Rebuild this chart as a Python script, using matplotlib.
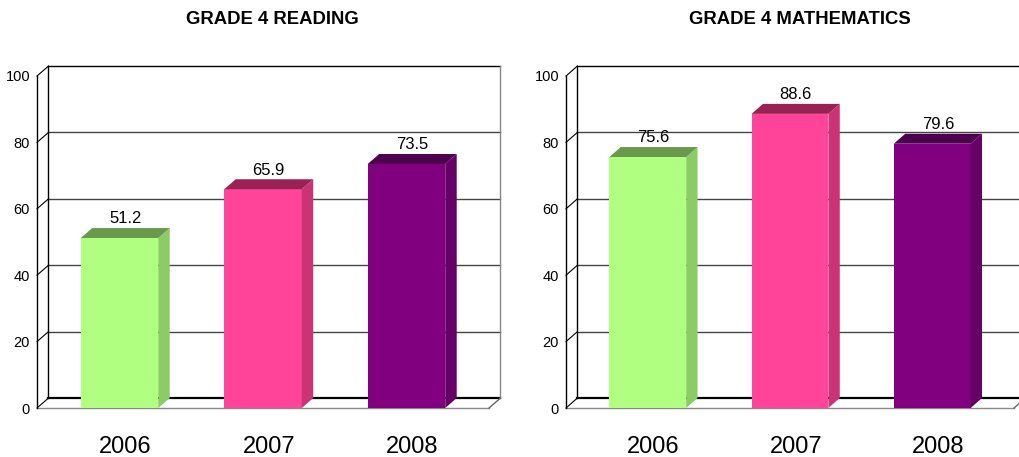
import matplotlib
matplotlib.use("Agg")
import matplotlib.pyplot as plt
from matplotlib.patches import Polygon, Rectangle

years = ['2006', '2007', '2008']
reading = [51.2, 65.9, 73.5]
mathematics = [75.6, 88.6, 79.6]
titles = ['GRADE 4 READING', 'GRADE 4 MATHEMATICS']
yticks = [0, 20, 40, 60, 80, 100]

front_cols = ['#B0FF80', '#FF4499', '#800080']
side_cols = ['#8CCC66', '#CC3377', '#660066']
top_cols = ['#6A994D', '#992255', '#4D004D']

plt.rcParams['font.family'] = ['Liberation Sans', 'DejaVu Sans']

W, H = 1019, 457
fig = plt.figure(figsize=(W / 100, H / 100), dpi=100)

# 3d look: depth offset in data units
DX, DY = 0.08, 3.0
BW = 0.54
XMIN, XMAX = -0.575, 2.575
GRID = '#444444'


def panel(left_px, right_px, values, title, title_x):
    ax = fig.add_axes([left_px / W, (H - 408) / H, (right_px - left_px) / W, 332 / H])
    ax.set_xlim(XMIN, XMAX)
    ax.set_ylim(0, 100)
    ax.patch.set_visible(False)

    # back wall + left wall lines
    for t in yticks:
        lw = 1.6 if t == 0 else 1.0
        c = 'black' if t in (0, 100) else GRID
        ax.plot([XMIN + DX, XMAX + DX], [t + DY, t + DY], color=c, lw=lw, clip_on=False, zorder=1)
        ax.plot([XMIN, XMIN + DX], [t, t + DY], color='black', lw=0.8, clip_on=False, zorder=1)
    ax.plot([XMIN + DX, XMIN + DX], [DY, 100 + DY], color='black', lw=1.0, clip_on=False, zorder=1)
    ax.plot([XMAX + DX, XMAX + DX], [DY, 100 + DY], color='#888888', lw=1.0, clip_on=False, zorder=1)
    # floor
    ax.plot([XMIN, XMAX], [0, 0], color='#888888', lw=1.0, clip_on=False, zorder=1)
    ax.plot([XMAX, XMAX + DX], [0, DY], color='#666666', lw=1.0, clip_on=False, zorder=1)

    for i, v in enumerate(values):
        x0, x1 = i - BW / 2, i + BW / 2
        ax.add_patch(Rectangle((x0, 0), BW, v, facecolor=front_cols[i], edgecolor='none',
                               clip_on=False, zorder=3))
        ax.add_patch(Polygon([(x1, 0), (x1 + DX, DY), (x1 + DX, v + DY), (x1, v)],
                             facecolor=side_cols[i], edgecolor='none', clip_on=False, zorder=3))
        ax.add_patch(Polygon([(x0, v), (x0 + DX, v + DY), (x1 + DX, v + DY), (x1, v)],
                             facecolor=top_cols[i], edgecolor='none', clip_on=False, zorder=3))
        ax.text(i + DX / 2, v + DY + 0.5, f'{v}', ha='center', va='bottom', fontsize=12, zorder=4)
        ax.text(i + DX / 2, -11.7, years[i], ha='center', va='center', fontsize=17)

    for s in ['top', 'right', 'bottom']:
        ax.spines[s].set_visible(False)
    ax.spines['left'].set_color('black')
    ax.spines['left'].set_linewidth(1.0)
    ax.set_xticks([])
    ax.set_yticks(yticks)
    ax.tick_params(axis='y', length=0, pad=5, labelsize=10.5)

    fig.text(title_x / W, 1 - 19 / H, title, ha='center', va='center',
             fontsize=13.3, fontweight='bold')


panel(37, 489, reading, titles[0], 272.5)
panel(566, 1014, mathematics, titles[1], 800)

fig.savefig('out.png', dpi=100)
